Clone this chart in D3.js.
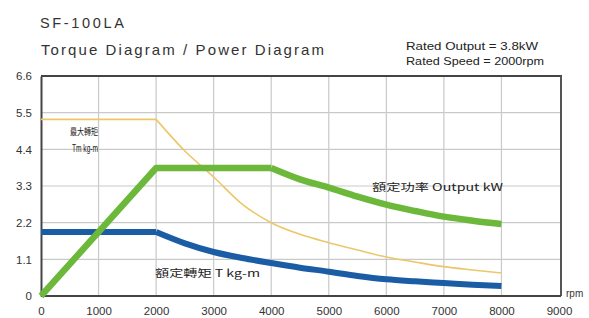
<!DOCTYPE html>
<html>
<head>
<meta charset="utf-8">
<script src="https://cdn.jsdelivr.net/npm/d3@7"></script>
<style>
  body { margin: 0; background: #fff; }
  svg { display: block; font-family: "Liberation Sans", Arial, sans-serif; }
</style>
</head>
<body>
<div id="chart"></div>
<script>
// values
const rpmTicks = [0, 1000, 2000, 3000, 4000, 5000, 6000, 7000, 8000, 9000];
const valueTicks = [0, 1.1, 2.2, 3.3, 4.4, 5.5, 6.6];

const maxTorqueRpm = [0, 2000, 2500, 3000, 3500, 4000, 4500, 5000, 5500, 6000, 6500, 7000, 7500, 8000];
const maxTorque    = [5.3, 5.3, 4.35, 3.57, 2.75, 2.2, 1.85, 1.6, 1.38, 1.17, 1.02, 0.88, 0.78, 0.69];

const powerRpm = [0, 2000, 4000, 4500, 5000, 5500, 6000, 6500, 7000, 7500, 8000];
const power    = [0, 3.84, 3.84, 3.5, 3.25, 2.98, 2.74, 2.55, 2.38, 2.26, 2.16];

const ratedTorqueRpm = [0, 2000, 2500, 3000, 3500, 4000, 4500, 5000, 5500, 6000, 6500, 7000, 7500, 8000];
const ratedTorque    = [1.92, 1.92, 1.58, 1.32, 1.14, 0.99, 0.85, 0.73, 0.6, 0.5, 0.44, 0.39, 0.34, 0.3];

const W = 589, H = 318;
const svg = d3.select("#chart").append("svg")
  .attr("width", W).attr("height", H);

const x = d3.scaleLinear().domain([0, 9000]).range([41, 559]);
const y = d3.scaleLinear().domain([0, 6.6]).range([296, 76]);

// grid
svg.append("g")
  .selectAll("line.v")
  .data(rpmTicks.slice(1, -1))
  .enter().append("line")
  .attr("x1", d => x(d)).attr("x2", d => x(d))
  .attr("y1", y(6.6)).attr("y2", y(0))
  .attr("stroke", "#c9c9c9").attr("stroke-width", 1.2);

svg.append("g")
  .selectAll("line.h")
  .data(valueTicks.slice(1, -1))
  .enter().append("line")
  .attr("x1", x(0)).attr("x2", 561)
  .attr("y1", d => y(d)).attr("y2", d => y(d))
  .attr("stroke", "#c9c9c9").attr("stroke-width", 1.2);

// frame
svg.append("line").attr("x1", x(0)).attr("x2", 562).attr("y1", y(6.6)).attr("y2", y(6.6))
  .attr("stroke", "#444").attr("stroke-width", 2);
svg.append("line").attr("x1", 561).attr("x2", 561).attr("y1", y(6.6)).attr("y2", y(0))
  .attr("stroke", "#555").attr("stroke-width", 2);

// axes
const xAxis = svg.append("g")
  .attr("transform", `translate(0,${y(0)})`)
  .call(d3.axisBottom(x).tickValues(rpmTicks).tickSize(0).tickPadding(11).tickFormat(d3.format("d")));
xAxis.select(".domain").attr("stroke", "#444").attr("stroke-width", 2)
  .attr("d", `M${x(0)},0H561`);
xAxis.selectAll("text").attr("font-size", 11.5).attr("fill", "#333");

const yAxis = svg.append("g")
  .attr("transform", `translate(${x(0)},0)`)
  .call(d3.axisLeft(y).tickValues(valueTicks).tickSize(0).tickPadding(9)
    .tickFormat(d => d === 0 ? "0" : d3.format(".1f")(d)));
yAxis.select(".domain").attr("stroke", "#444").attr("stroke-width", 2);
yAxis.selectAll("text").attr("font-size", 11.5).attr("fill", "#333");

// curves
const line = d3.line().x(d => x(d[0])).y(d => y(d[1]));
const curve = d3.line().x(d => x(d[0])).y(d => y(d[1])).curve(d3.curveMonotoneX);

function drawSeries(rpm, vals, color, width, smoothFrom) {
  const pts = rpm.map((r, i) => [r, vals[i]]);
  const head = pts.filter(p => p[0] <= smoothFrom);
  const tail = pts.filter(p => p[0] >= smoothFrom);
  svg.append("path").datum(head).attr("d", line)
    .attr("fill", "none").attr("stroke", color).attr("stroke-width", width)
    .attr("stroke-linejoin", "round");
  svg.append("path").datum(tail).attr("d", curve)
    .attr("fill", "none").attr("stroke", color).attr("stroke-width", width)
    .attr("stroke-linejoin", "round");
}

drawSeries(maxTorqueRpm, maxTorque, "#ecc76a", 1.6, 2000);
drawSeries(ratedTorqueRpm, ratedTorque, "#1a5da5", 6, 2000);
drawSeries(powerRpm, power, "#6cb83a", 6.5, 4000);

// titles
svg.append("text").attr("x", 40).attr("y", 28).attr("font-size", 14.5).attr("fill", "#333")
  .attr("textLength", 84).attr("lengthAdjust", "spacing")
  .text("SF-100LA");
svg.append("text").attr("x", 41).attr("y", 55).attr("font-size", 15).attr("fill", "#333")
  .attr("textLength", 283).attr("lengthAdjust", "spacing")
  .text("Torque Diagram / Power Diagram");
svg.append("text").attr("x", 406).attr("y", 50).attr("font-size", 10.5).attr("fill", "#222")
  .attr("textLength", 132).attr("lengthAdjust", "spacingAndGlyphs")
  .text("Rated Output = 3.8kW");
svg.append("text").attr("x", 406).attr("y", 65).attr("font-size", 10.5).attr("fill", "#222")
  .attr("textLength", 138).attr("lengthAdjust", "spacingAndGlyphs")
  .text("Rated Speed = 2000rpm");

// annotations
const cjk = "'Noto Sans CJK TC', 'Noto Sans', sans-serif";
svg.append("text").attr("x", 70).attr("y", 135).attr("font-size", 9).attr("font-family", cjk)
  .attr("fill", "#222").attr("textLength", 28).attr("lengthAdjust", "spacingAndGlyphs")
  .text("最大轉矩");
svg.append("text").attr("x", 72).attr("y", 152).attr("font-size", 10).attr("fill", "#222")
  .attr("textLength", 26).attr("lengthAdjust", "spacingAndGlyphs")
  .text("Tm kg-m");
svg.append("text").attr("x", 155).attr("y", 277).attr("font-size", 10).attr("font-family", cjk)
  .attr("fill", "#222").attr("textLength", 105).attr("lengthAdjust", "spacingAndGlyphs")
  .text("額定轉矩 T kg-m");
svg.append("text").attr("x", 372).attr("y", 191).attr("font-size", 10).attr("font-family", cjk)
  .attr("fill", "#222").attr("textLength", 131).attr("lengthAdjust", "spacingAndGlyphs")
  .text("額定功率 Output kW");
svg.append("text").attr("x", 566).attr("y", 297).attr("font-size", 10).attr("fill", "#333")
  .text("rpm");
</script>
</body>
</html>
